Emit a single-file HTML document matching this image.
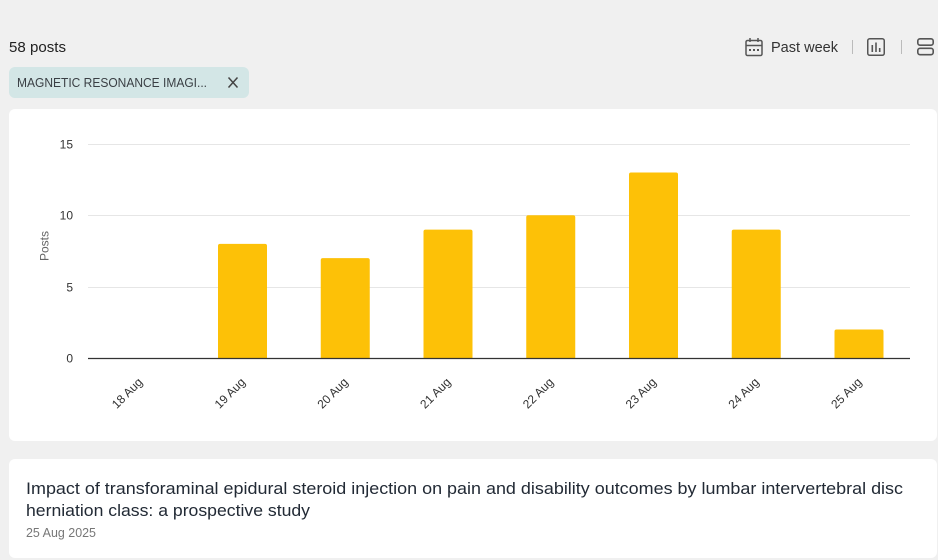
<!DOCTYPE html>
<html><head><meta charset="utf-8"><style>
html,body{margin:0;padding:0;background:#f0f0f0;}
svg{display:block;}
text{font-family:"Liberation Sans",Arial,sans-serif;}
</style></head><body>
<svg width="938" height="560" viewBox="0 0 938 560" xmlns="http://www.w3.org/2000/svg">
<rect x="0" y="0" width="938" height="560" fill="#f0f0f0"/>
<!-- header -->
<text x="9" y="52" font-size="14.5" fill="#222" textLength="57" lengthAdjust="spacingAndGlyphs">58 posts</text>
<rect x="9" y="67" width="240" height="31" rx="6" fill="#d3e6e6"/>
<text x="17" y="87" font-size="12.5" fill="#3a3f44" textLength="190" lengthAdjust="spacingAndGlyphs">MAGNETIC RESONANCE IMAGI...</text>
<path d="M228.5 77.5 L237.5 87.5 M237.5 77.5 L228.5 87.5" stroke="#444" stroke-width="1.5" fill="none"/>
<!-- calendar icon -->
<g fill="none" stroke="#555" stroke-width="1.5">
<rect x="746" y="40.5" width="16" height="15" rx="1.5"/>
<line x1="746" y1="45.5" x2="762" y2="45.5"/>
<line x1="750" y1="38" x2="750" y2="42"/>
<line x1="758" y1="38" x2="758" y2="42"/>
</g>
<g fill="#555"><rect x="749" y="49" width="2" height="2"/><rect x="753" y="49" width="2" height="2"/><rect x="757" y="49" width="2" height="2"/></g>
<text x="771" y="52" font-size="14.5" fill="#333" textLength="67" lengthAdjust="spacingAndGlyphs">Past week</text>
<line x1="852.5" y1="40" x2="852.5" y2="54" stroke="#bbb" stroke-width="1"/>
<!-- chart icon -->
<rect x="867.75" y="38.75" width="16.5" height="16.5" rx="2" fill="none" stroke="#555" stroke-width="1.5"/>
<g fill="#555"><rect x="871.5" y="45" width="1.6" height="7"/><rect x="875.2" y="42.5" width="1.6" height="9.5"/><rect x="878.9" y="48" width="1.6" height="4"/></g>
<line x1="901.5" y1="40" x2="901.5" y2="54" stroke="#bbb" stroke-width="1"/>
<!-- rows icon -->
<g fill="none" stroke="#555" stroke-width="1.6">
<rect x="917.8" y="38.8" width="15.4" height="6.4" rx="2.2"/>
<rect x="917.8" y="48.3" width="15.4" height="6.4" rx="2.2"/>
</g>
<!-- chart card -->
<rect x="9" y="109" width="928" height="332" rx="6" fill="#ffffff"/>
<g stroke="#e6e6e6" stroke-width="1">
<line x1="88" y1="144.5" x2="910" y2="144.5"/>
<line x1="88" y1="215.5" x2="910" y2="215.5"/>
<line x1="88" y1="287.5" x2="910" y2="287.5"/>
</g>
<g font-size="12" fill="#333" text-anchor="end">
<text x="73" y="148.5">15</text>
<text x="73" y="219.5">10</text>
<text x="73" y="291.5">5</text>
<text x="73" y="362.5">0</text>
</g>
<text x="0" y="0" font-size="12" fill="#666" text-anchor="middle" transform="translate(48.5,246) rotate(-90)">Posts</text>
<g fill="#fdc107">
<path d="M218 358 V245.9 Q218 243.9 220 243.9 H265 Q267 243.9 267 245.9 V358 Z"/>
<path d="M320.75 358 V260.1 Q320.75 258.1 322.75 258.1 H367.75 Q369.75 258.1 369.75 260.1 V358 Z"/>
<path d="M423.5 358 V231.6 Q423.5 229.6 425.5 229.6 H470.5 Q472.5 229.6 472.5 231.6 V358 Z"/>
<path d="M526.25 358 V217.3 Q526.25 215.3 528.25 215.3 H573.25 Q575.25 215.3 575.25 217.3 V358 Z"/>
<path d="M629 358 V174.5 Q629 172.5 631 172.5 H676 Q678 172.5 678 174.5 V358 Z"/>
<path d="M731.75 358 V231.6 Q731.75 229.6 733.75 229.6 H778.75 Q780.75 229.6 780.75 231.6 V358 Z"/>
<path d="M834.5 358 V331.5 Q834.5 329.5 836.5 329.5 H881.5 Q883.5 329.5 883.5 331.5 V358 Z"/>
</g>
<line x1="88" y1="358.5" x2="910" y2="358.5" stroke="#333" stroke-width="1.2"/>
<g font-size="12" fill="#333" text-anchor="end">
<text transform="translate(140.4,380) rotate(-45)" dy="4">18 Aug</text>
<text transform="translate(243.1,380) rotate(-45)" dy="4">19 Aug</text>
<text transform="translate(345.9,380) rotate(-45)" dy="4">20 Aug</text>
<text transform="translate(448.6,380) rotate(-45)" dy="4">21 Aug</text>
<text transform="translate(551.4,380) rotate(-45)" dy="4">22 Aug</text>
<text transform="translate(654.1,380) rotate(-45)" dy="4">23 Aug</text>
<text transform="translate(756.9,380) rotate(-45)" dy="4">24 Aug</text>
<text transform="translate(859.6,380) rotate(-45)" dy="4">25 Aug</text>
</g>
<!-- post card -->
<rect x="9" y="459" width="928" height="99" rx="6" fill="#ffffff"/>
<text x="26" y="494" font-size="16.5" fill="#222a35" textLength="877" lengthAdjust="spacingAndGlyphs">Impact of transforaminal epidural steroid injection on pain and disability outcomes by lumbar intervertebral disc</text>
<text x="26" y="516" font-size="16.5" fill="#222a35" textLength="284" lengthAdjust="spacingAndGlyphs">herniation class: a prospective study</text>
<text x="26" y="537" font-size="12.5" fill="#777" textLength="70" lengthAdjust="spacingAndGlyphs">25 Aug 2025</text>
</svg>
</body></html>
